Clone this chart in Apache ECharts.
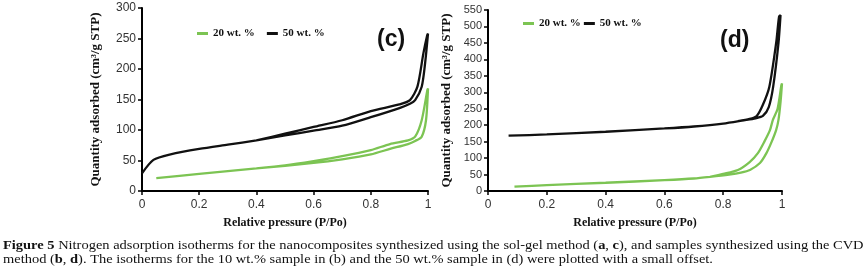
<!DOCTYPE html>
<html>
<head>
<meta charset="utf-8">
<script src="https://cdn.jsdelivr.net/npm/echarts@6/dist/echarts.min.js"></script>
<style>
  html, body { margin: 0; padding: 0; background: #fff; }
  #main { width: 868px; height: 274px; }
</style>
</head>
<body>
<div id="main"></div>
<script>
// 图例名称
var seriesNames = ['20 wt. %', '50 wt. %'];

// (c) 溶胶-凝胶法  吸附支 / 脱附支
var c50AdsX = [0, 0.04, 0.1, 0.2, 0.3, 0.4, 0.5, 0.6, 0.7, 0.8, 0.9, 0.937, 0.955, 0.978, 0.99, 1.0];
var c50AdsY = [29, 51, 60, 69, 76, 83, 91, 99, 107, 121, 136, 143, 149, 171, 210, 258];
var c50DesX = [0.997, 0.984, 0.963, 0.937, 0.9, 0.8, 0.7, 0.6, 0.5, 0.4];
var c50DesY = [255, 226, 171, 149, 142, 131, 116, 105, 94, 83];

var c20AdsX = [0.05, 0.2, 0.4, 0.6, 0.7, 0.8, 0.867, 0.93, 0.955, 0.978, 0.993, 1.0];
var c20AdsY = [21, 28, 37, 46, 52, 60, 69, 77, 82, 89, 116, 168];
var c20DesX = [0.998, 0.978, 0.955, 0.93, 0.867, 0.8, 0.7, 0.6, 0.5, 0.4];
var c20DesY = [166, 116, 89, 83, 77, 67, 57, 49, 42, 37];

// (d) CVD法
var d50AdsX = [0.07, 0.2, 0.4, 0.6, 0.7, 0.8, 0.87, 0.91, 0.935, 0.955, 0.97, 0.988, 0.995];
var d50AdsY = [168, 172, 180, 190, 196, 205, 215, 221, 228, 255, 317, 449, 534];
var d50DesX = [0.99, 0.98, 0.957, 0.935, 0.914, 0.89, 0.85];
var d50DesY = [530, 449, 317, 262, 228, 219, 212];

var d20AdsX = [0.09, 0.2, 0.4, 0.6, 0.7, 0.755, 0.82, 0.86, 0.891, 0.925, 0.947, 0.965, 0.98, 0.988, 0.995, 1.0];
var d20AdsY = [13, 18, 25, 33, 38, 43, 50, 56, 64, 85, 115, 150, 185, 216, 270, 327];
var d20DesX = [0.998, 0.985, 0.969, 0.959, 0.94, 0.918, 0.89, 0.85, 0.8, 0.755];
var d20DesY = [322, 250, 216, 185, 150, 115, 88, 64, 52, 43];

// 把吸附支和脱附支连成一个回线
function loop(ax, ay, dx, dy) {
    var out = [];
    for (var i = 0; i < ax.length; i++) out.push([ax[i], ay[i]]);
    for (var j = 0; j < dx.length; j++) out.push([dx[j], dy[j]]);
    return out;
}

var green = '#7cc453';
var black = '#111111';
var serif = '"Liberation Serif", "DejaVu Serif", serif';
var sans = '"Liberation Sans", Arial, sans-serif';

function xAxisOf(grid) {
    return {
        type: 'value', gridIndex: grid, min: 0, max: 1, interval: 0.2,
        name: 'Relative pressure (P/Po)', nameLocation: 'middle', nameGap: 26,
        nameTextStyle: { fontFamily: serif, fontWeight: 'bold', fontSize: 12, color: '#111' },
        axisLine: { lineStyle: { color: '#000', width: 2 } },
        axisTick: { show: true, length: 4, lineStyle: { color: '#000', width: 1.5 } },
        axisLabel: { color: '#333', fontFamily: sans, fontSize: 12, margin: 8 },
        splitLine: { show: false }
    };
}

function yAxisOf(grid, max, gap, fs) {
    return {
        type: 'value', gridIndex: grid, min: 0, max: max, interval: 50,
        name: 'Quantity adsorbed (cm³/g STP)', nameLocation: 'middle', nameGap: gap,
        nameTextStyle: { fontFamily: serif, fontWeight: 'bold', fontSize: 13, color: '#111' },
        axisLine: { show: true, lineStyle: { color: '#000', width: 2 } },
        axisTick: { show: true, length: 4, lineStyle: { color: '#000', width: 1.5 } },
        axisLabel: { color: '#333', fontFamily: sans, fontSize: fs, margin: 6 },
        splitLine: { show: false }
    };
}

function lineOf(name, color, xi, data) {
    return {
        name: name, type: 'line', xAxisIndex: xi, yAxisIndex: xi,
        data: data, smooth: 0.25, showSymbol: false, symbol: 'none',
        lineStyle: { color: color, width: 2.3 }, itemStyle: { color: color },
        animation: false
    };
}

var caption1 = '{b|Figure 5} Nitrogen adsorption isotherms for the nanocomposites synthesized using the sol-gel method ({b|a}, {b|c}), and samples synthesized using the CVD';
var caption2 = 'method ({b|b}, {b|d}). The isotherms for the 10 wt.% sample in (b) and the 50 wt.% sample in (d) were plotted with a small offset.';
var capRich = { b: { fontWeight: 'bold', fontFamily: serif, fontSize: 13 } };

var dom = echarts.init(document.getElementById('main'));
var option = {
    backgroundColor: '#fff',
    animation: false,
    grid: [
        { left: 142, top: 8, width: 286, height: 183 },
        { left: 488, top: 10, width: 294, height: 181 }
    ],
    legend: [
        {
            left: 192, top: 23, icon: 'rect', itemWidth: 11, itemHeight: 3, itemGap: 12,
            data: seriesNames,
            textStyle: { fontFamily: serif, fontWeight: 'bold', fontSize: 11, color: '#111' }
        },
        {
            left: 518, top: 13, icon: 'rect', itemWidth: 11, itemHeight: 3, itemGap: 3,
            data: seriesNames,
            textStyle: { fontFamily: serif, fontWeight: 'bold', fontSize: 11, color: '#111' }
        }
    ],
    xAxis: [xAxisOf(0), xAxisOf(1)],
    yAxis: [yAxisOf(0, 300, 40, 12), yAxisOf(1, 550, 35, 11)],
    series: [
        lineOf(seriesNames[0], green, 0, loop(c20AdsX, c20AdsY, c20DesX, c20DesY)),
        lineOf(seriesNames[1], black, 0, loop(c50AdsX, c50AdsY, c50DesX, c50DesY)),
        lineOf(seriesNames[0], green, 1, loop(d20AdsX, d20AdsY, d20DesX, d20DesY)),
        lineOf(seriesNames[1], black, 1, loop(d50AdsX, d50AdsY, d50DesX, d50DesY))
    ],
    graphic: [
        { type: 'text', left: 377, top: 28, style: { text: '(c)', font: 'bold 23px ' + sans, fill: '#111' } },
        { type: 'text', left: 720, top: 29, style: { text: '(d)', font: 'bold 23px ' + sans, fill: '#111' } },
        {
            type: 'text', x: 3, y: 239, scaleX: 1.112, originX: 0,
            style: { text: caption1, font: '13px ' + serif, fill: '#111', rich: capRich }
        },
        {
            type: 'text', x: 3, y: 253, scaleX: 1.112, originX: 0,
            style: { text: caption2, font: '13px ' + serif, fill: '#111', rich: capRich }
        }
    ]
};
dom.setOption(option);
</script>
</body>
</html>
